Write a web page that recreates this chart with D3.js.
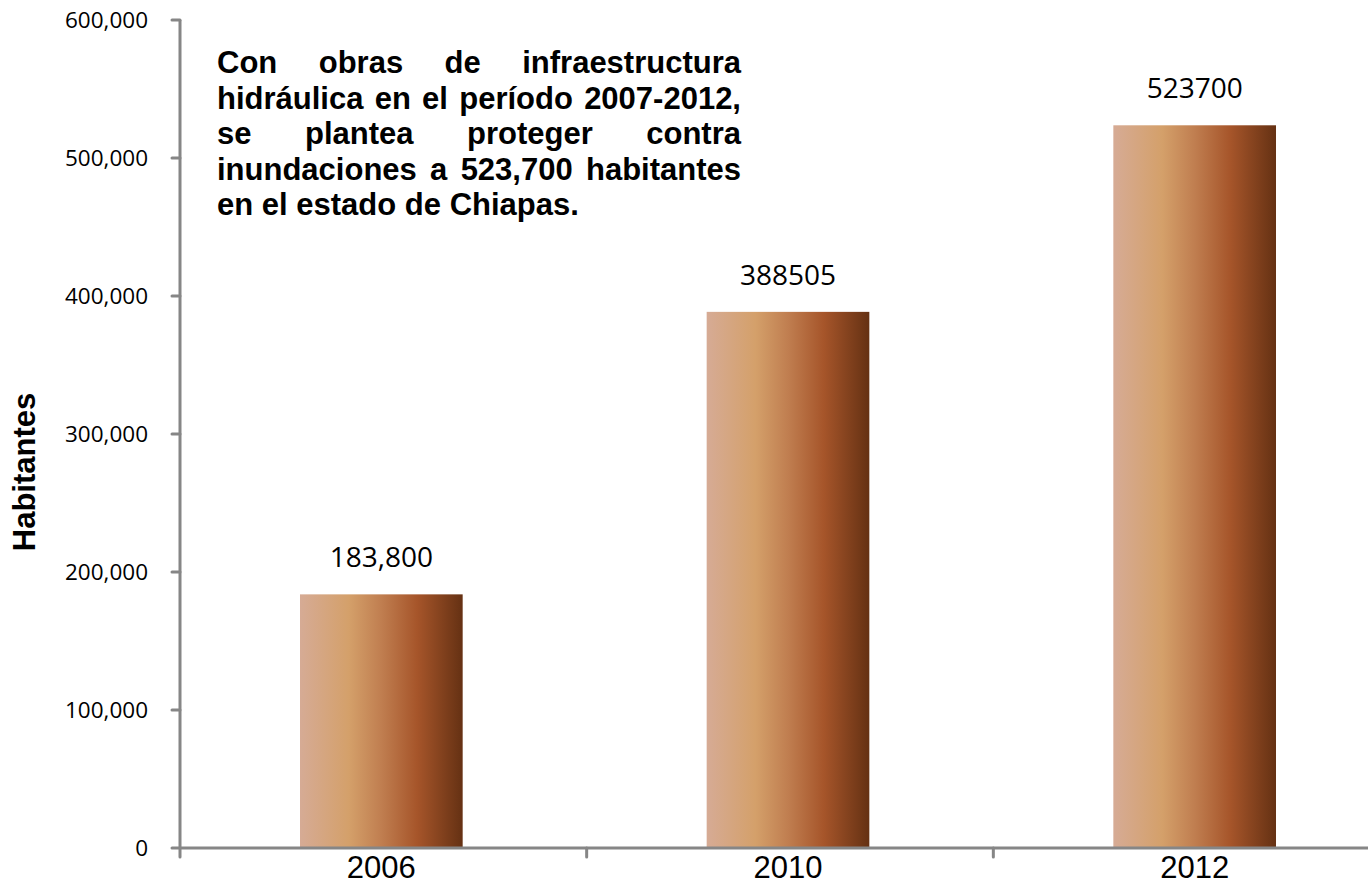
<!DOCTYPE html>
<html>
<head>
<meta charset="utf-8">
<script src="https://cdn.jsdelivr.net/npm/d3@7"></script>
<style>
  body { margin: 0; background: #fff; }
</style>
</head>
<body>
<svg id="vis"></svg>
<script>
const plotWidth = 1368;
const plotHeight = 883;

const years = ['2006', '2010', '2012'];
const habitantes = [183800, 388505, 523700];
const valueLabels = ['183,800', '388505', '523700'];
const yTicks = [0, 100000, 200000, 300000, 400000, 500000, 600000];
const noteLines = [
    'Con obras de infraestructura',
    'hidráulica en el período 2007-2012,',
    'se plantea proteger contra',
    'inundaciones a 523,700 habitantes',
    'en el estado de Chiapas.'
];

const svg = d3.select('#vis')
    .attr('width', plotWidth)
    .attr('height', plotHeight);

const axisColor = '#868686';

const y = d3.scaleLinear().domain([0, 600000]).range([848, 20]);
const x = d3.scaleBand().domain(years).range([180, 1400])
    .paddingInner(0.6).paddingOuter(0.3);

// gradient for the bars
const grad = svg.append('defs').append('linearGradient')
    .attr('id', 'barGrad')
    .attr('x1', '0%').attr('x2', '100%').attr('y1', '0%').attr('y2', '0%');
[[0, '#d6ab95'], [0.3, '#d4a06a'], [0.5, '#c07e50'], [0.72, '#a6552a'], [1, '#653113']]
    .forEach(s => grad.append('stop').attr('offset', s[0]).attr('stop-color', s[1]));

// bars
svg.selectAll('.bar').data(habitantes).enter()
    .append('rect')
    .attr('x', (d, i) => x(years[i]) - 2)
    .attr('y', d => y(d))
    .attr('width', x.bandwidth())
    .attr('height', d => y(0) - y(d))
    .style('fill', 'url(#barGrad)');

// value labels
svg.selectAll('.val').data(habitantes).enter()
    .append('text')
    .attr('x', (d, i) => x(years[i]) - 2 + x.bandwidth() / 2)
    .attr('y', d => y(d) - 27)
    .attr('text-anchor', 'middle')
    .style('font-family', 'Open Sans')
    .style('font-size', '28px')
    .style('fill', '#000')
    .text((d, i) => valueLabels[i]);

// y axis
const yAxis = svg.append('g');
yAxis.append('line')
    .attr('x1', 180).attr('x2', 180)
    .attr('y1', y(600000)).attr('y2', y(0))
    .style('stroke', axisColor).style('stroke-width', 3);
yAxis.selectAll('.tick').data(yTicks).enter()
    .append('line')
    .attr('x1', 172).attr('x2', 180)
    .attr('y1', d => y(d)).attr('y2', d => y(d))
    .style('stroke', axisColor).style('stroke-width', 3)
    .style('stroke-linecap', 'round');
yAxis.selectAll('.lab').data(yTicks).enter()
    .append('text')
    .attr('x', 148)
    .attr('y', d => y(d))
    .attr('dy', '0.35em')
    .attr('text-anchor', 'end')
    .style('font-family', 'Open Sans')
    .style('font-size', '22.5px')
    .text(d => d3.format(',')(d));

// x axis
const xAxis = svg.append('g');
xAxis.append('line')
    .attr('x1', 180).attr('x2', 1400)
    .attr('y1', y(0)).attr('y2', y(0))
    .style('stroke', axisColor).style('stroke-width', 3);
xAxis.selectAll('.tick').data(years).enter()
    .append('line')
    .attr('x1', d => x(d) - x.step() * 0.3).attr('x2', d => x(d) - x.step() * 0.3)
    .attr('y1', y(0)).attr('y2', y(0) + 9)
    .style('stroke', axisColor).style('stroke-width', 3)
    .style('stroke-linecap', 'round');
xAxis.selectAll('.lab').data(years).enter()
    .append('text')
    .attr('x', d => x(d) - 2 + x.bandwidth() / 2)
    .attr('y', 878)
    .attr('text-anchor', 'middle')
    .style('font-family', 'Liberation Sans, Arial')
    .style('font-size', '31px')
    .text(d => d);

// axis title
svg.append('text')
    .attr('transform', 'translate(35,472) rotate(-90)')
    .attr('text-anchor', 'middle')
    .style('font-family', 'Liberation Sans, Arial')
    .style('font-weight', 'bold')
    .style('font-size', '31px')
    .text('Habitantes');

// justified note
const noteLeft = 217, noteRight = 741, noteTop = 73, lineGap = 35.5;
const noteSize = 31;
const note = svg.append('g')
    .style('font-family', 'Liberation Sans, Arial')
    .style('font-weight', 'bold')
    .style('font-size', noteSize + 'px');
noteLines.forEach((line, li) => {
    const words = line.split(' ');
    const yy = noteTop + li * lineGap;
    const nodes = words.map(w => note.append('text').attr('y', yy).text(w));
    const widths = nodes.map(n => n.node().getComputedTextLength());
    const total = d3.sum(widths);
    const last = li === noteLines.length - 1;
    const gap = last ? noteSize * 0.278 : (noteRight - noteLeft - total) / (words.length - 1);
    let cx = noteLeft;
    nodes.forEach((n, i) => {
        n.attr('x', cx);
        cx += widths[i] + gap;
    });
});
</script>
</body>
</html>
